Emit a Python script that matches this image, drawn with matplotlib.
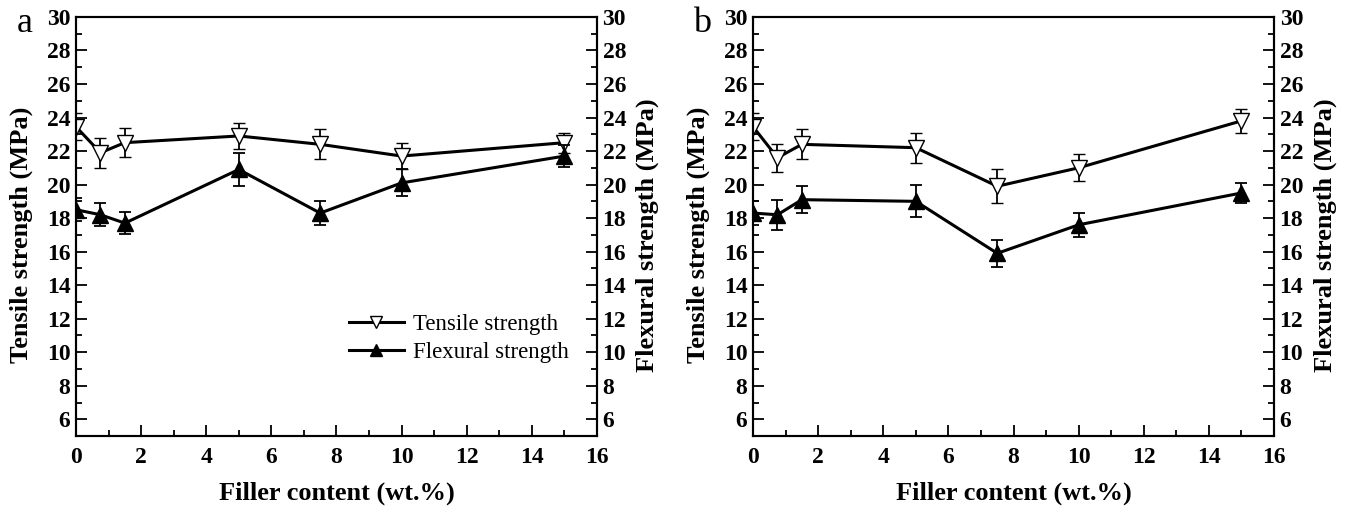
import matplotlib
matplotlib.use("Agg")
import matplotlib.pyplot as plt
from matplotlib.ticker import MultipleLocator

plt.rcParams['font.family'] = ['Liberation Serif', 'DejaVu Serif']

# filler content (wt.%)
filler = [0, 0.75, 1.5, 5, 7.5, 10, 15]

# panel a
tensile_a = [23.45, 21.9, 22.5, 22.9, 22.4, 21.7, 22.5]
tensile_a_err = [0.8, 0.9, 0.85, 0.8, 0.9, 0.8, 0.6]
flexural_a = [18.5, 18.2, 17.7, 20.9, 18.3, 20.1, 21.7]
flexural_a_err = [0.7, 0.7, 0.65, 1.0, 0.7, 0.8, 0.65]

# panel b
tensile_b = [23.45, 21.6, 22.4, 22.2, 19.9, 21.0, 23.8]
tensile_b_err = [0.8, 0.85, 0.9, 0.9, 1.0, 0.8, 0.7]
flexural_b = [18.3, 18.2, 19.1, 19.0, 15.9, 17.6, 19.5]
flexural_b_err = [0.7, 0.9, 0.8, 0.95, 0.8, 0.7, 0.6]

panels = [
    ("a", tensile_a, tensile_a_err, flexural_a, flexural_a_err, True),
    ("b", tensile_b, tensile_b_err, flexural_b, flexural_b_err, False),
]

fig = plt.figure(figsize=(13.62, 5.13), dpi=100)
lefts = [0.0558, 0.5529]

label_font = dict(fontsize=19, fontweight='bold')


def style_axis(ax):
    for sp in ax.spines.values():
        sp.set_linewidth(1.5)
    ax.tick_params(which='major', direction='in', length=8, width=1.3)
    ax.tick_params(which='minor', direction='in', length=4, width=1.3)
    ax.xaxis.set_major_locator(MultipleLocator(2))
    ax.xaxis.set_minor_locator(MultipleLocator(1))
    ax.yaxis.set_major_locator(MultipleLocator(2))
    ax.yaxis.set_minor_locator(MultipleLocator(1))
    ax.set_xlim(0, 16)
    ax.set_ylim(5, 30)


for (tag, ts, ts_err, fl, fl_err, show_legend), left in zip(panels, lefts):
    ax = fig.add_axes([left, 0.150, 0.3825, 0.817])
    ax2 = ax.twinx()
    style_axis(ax)
    style_axis(ax2)
    ax.tick_params(axis='x', which='both', top=False, pad=8)
    ax2.tick_params(axis='x', which='both', top=False, bottom=False)
    ax.tick_params(axis='y', which='both', right=False, pad=4)
    ax2.tick_params(axis='y', which='both', left=False, pad=4)
    ax.set_yticks(range(6, 31, 2))
    ax2.set_yticks(range(6, 31, 2))

    h1 = ax.errorbar(filler, ts, yerr=ts_err, color='black', lw=2.2,
                     marker='v', ms=12, mfc='white', mec='black', mew=1.0,
                     capsize=4, elinewidth=1.3, capthick=1.3,
                     label='Tensile strength')
    h2 = ax2.errorbar(filler, fl, yerr=fl_err, color='black', lw=2.2,
                      marker='^', ms=12, mfc='black', mec='black',
                      capsize=4, elinewidth=1.3, capthick=1.3,
                      label='Flexural strength')

    for lab in ax.get_xticklabels() + ax.get_yticklabels() + ax2.get_yticklabels():
        lab.set_fontsize(17)
        lab.set_fontweight('bold')

    ax.set_xlabel('Filler content (wt.%)', **label_font)
    ax.xaxis.set_label_coords(0.5, -0.108)
    ax.set_ylabel('Tensile strength (MPa)', **label_font)
    ax.yaxis.set_label_coords(-0.083, 0.48)
    ax2.set_ylabel('Flexural strength (MPa)', **label_font)
    ax2.yaxis.set_label_coords(1.075, 0.48)

    ax.text(-0.098, 0.964, tag, transform=ax.transAxes, fontsize=26,
            ha='center', va='baseline')

    if show_legend:
        ax.legend([h1[0], h2[0]], ['Tensile strength', 'Flexural strength'],
                  loc='center left', bbox_to_anchor=(0.524, 0.232),
                  frameon=False, fontsize=16.5, handlelength=2.4,
                  handletextpad=0.4, labelspacing=0.3, markerscale=0.75,
                  borderpad=0, borderaxespad=0)

fig.savefig('out.png', dpi=100)
